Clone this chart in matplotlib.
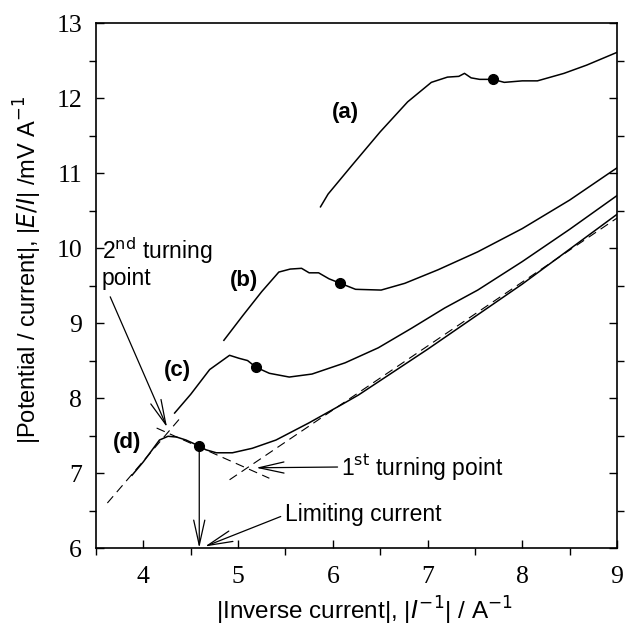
import numpy as np
import matplotlib.pyplot as plt
from matplotlib.ticker import MultipleLocator

# curve (a)
a_x = [5.87, 5.95, 6.2, 6.5, 6.79, 7.04, 7.21, 7.33, 7.39, 7.46, 7.55, 7.69, 7.81, 8.0, 8.16, 8.44, 8.68, 9.0]
a_y = [10.55, 10.72, 11.1, 11.55, 11.95, 12.21, 12.28, 12.29, 12.33, 12.27, 12.25, 12.25, 12.21, 12.23, 12.23, 12.33, 12.44, 12.61]
# curve (b)
b_x = [4.85, 5.05, 5.25, 5.43, 5.55, 5.67, 5.75, 5.85, 5.96, 6.08, 6.24, 6.51, 6.76, 7.11, 7.53, 8.0, 8.5, 9.0]
b_y = [8.77, 9.1, 9.42, 9.68, 9.72, 9.73, 9.67, 9.67, 9.59, 9.53, 9.45, 9.44, 9.53, 9.71, 9.95, 10.26, 10.64, 11.07]
# curve (c)
c_x = [4.33, 4.5, 4.7, 4.91, 5.01, 5.1, 5.19, 5.33, 5.54, 5.78, 6.13, 6.48, 6.83, 7.18, 7.53, 8.0, 8.5, 9.0]
c_y = [7.8, 8.05, 8.38, 8.57, 8.53, 8.5, 8.41, 8.33, 8.28, 8.32, 8.47, 8.67, 8.93, 9.2, 9.44, 9.82, 10.25, 10.7]
# curve (d)
d_x = [3.88, 4.0, 4.17, 4.26, 4.35, 4.45, 4.59, 4.66, 4.77, 4.94, 5.15, 5.4, 5.75, 6.09, 6.27, 7.0, 8.0, 9.0]
d_y = [6.97, 7.15, 7.44, 7.49, 7.48, 7.44, 7.36, 7.31, 7.27, 7.27, 7.33, 7.44, 7.67, 7.91, 8.04, 8.65, 9.52, 10.45]

# marked points on each curve
dot_x = [7.69, 6.08, 5.19, 4.59]
dot_y = [12.25, 9.53, 8.41, 7.36]

# tangent lines (dashed)
tan1_x = [3.62, 4.38]
tan1_y = [6.6, 7.72]
tan2_x = [4.14, 5.33]
tan2_y = [7.6, 6.93]
tan3_x = [4.91, 9.0]
tan3_y = [6.91, 10.4]

plt.rcParams['font.family'] = 'Liberation Sans'

fig = plt.figure(figsize=(6.25, 6.37), dpi=100)
ax = fig.add_axes([0.1536, 0.1397, 0.8336, 0.824])

for xs, ys in [(a_x, a_y), (b_x, b_y), (c_x, c_y), (d_x, d_y)]:
    ax.plot(xs, ys, color='black', lw=1.1)

for xs, ys in [(tan1_x, tan1_y), (tan2_x, tan2_y), (tan3_x, tan3_y)]:
    ax.plot(xs, ys, color='black', lw=0.8, dashes=(8, 5))

ax.plot(dot_x, dot_y, 'o', color='black', markersize=7)

ax.set_xlim(3.5, 9)
ax.set_ylim(6, 13)

ax.xaxis.set_major_locator(MultipleLocator(1))
ax.xaxis.set_minor_locator(MultipleLocator(0.5))
ax.yaxis.set_major_locator(MultipleLocator(1))
ax.yaxis.set_minor_locator(MultipleLocator(0.5))
ax.tick_params(which='major', direction='in', length=6, width=1, right=True)
ax.tick_params(which='minor', direction='out', length=5, width=1, right=True)
ax.tick_params(axis='x', which='major', pad=13, labelsize=18.5)
ax.tick_params(axis='y', which='major', pad=10, labelsize=18.5)
for lab in ax.get_xticklabels() + ax.get_yticklabels():
    lab.set_family('Liberation Serif')
for s in ax.spines.values():
    s.set_linewidth(1.2)

ax.set_xlabel(r'|Inverse current|, |$\mathit{I}^{-1}$| / A$^{-1}$', fontsize=17.5)
ax.set_ylabel(r'|Potential / current|, |$\mathit{E/I}$| /mV A$^{-1}$', fontsize=17)
ax.xaxis.set_label_coords(0.516, -0.09)
ax.yaxis.set_label_coords(-0.1, 0.53)

ax.text(6.13, 11.81, '(a)', fontsize=16, fontweight='bold', ha='center', va='center')
ax.text(5.06, 9.57, '(b)', fontsize=16, fontweight='bold', ha='center', va='center')
ax.text(4.36, 8.37, '(c)', fontsize=16, fontweight='bold', ha='center', va='center')
ax.text(3.83, 7.41, '(d)', fontsize=16, fontweight='bold', ha='center', va='center')

arrow = dict(arrowstyle='->, head_length=1.8, head_width=0.4', color='black', lw=0.9,
             shrinkA=0, shrinkB=0)

ax.text(3.56, 9.81, '2$^{\\mathrm{nd}}$ turning\npoint', fontsize=16.5, ha='left', va='center',
        linespacing=1.05)
ax.annotate('', xy=(4.25, 7.61), xytext=(3.65, 9.35), arrowprops=arrow)

ax.text(6.09, 7.08, '1$^{\\mathrm{st}}$ turning point', fontsize=16.5, ha='left', va='center')
ax.annotate('', xy=(5.19, 7.07), xytext=(6.05, 7.08), arrowprops=arrow)

ax.text(5.5, 6.45, 'Limiting current', fontsize=16.5, ha='left', va='center')
ax.annotate('', xy=(4.65, 6.02), xytext=(5.45, 6.42), arrowprops=arrow)
ax.annotate('', xy=(4.59, 6.0), xytext=(4.59, 7.36), arrowprops=arrow)

fig.savefig('out.png', dpi=100)
